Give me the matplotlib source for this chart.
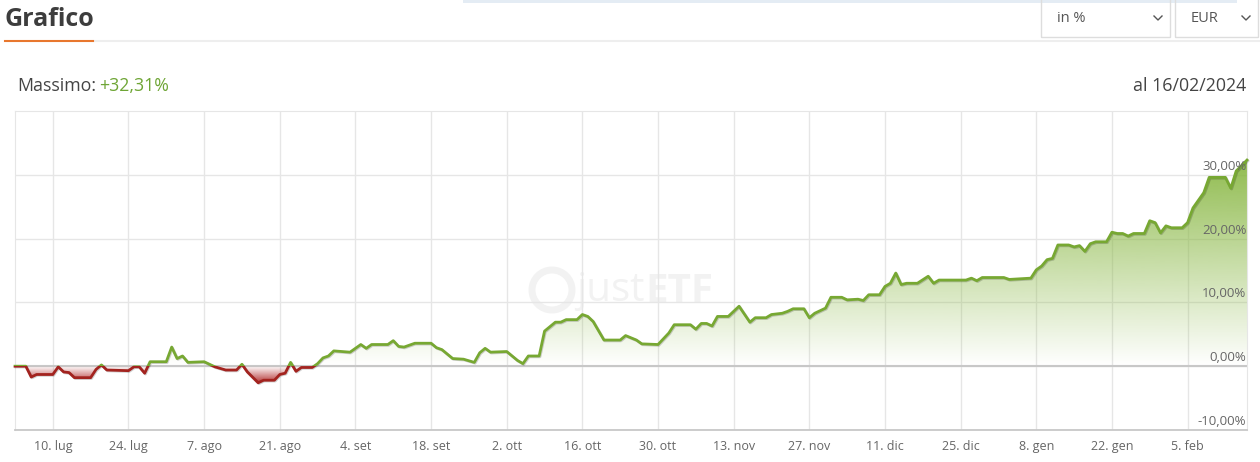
import matplotlib
matplotlib.use("Agg")
import matplotlib.pyplot as plt
import matplotlib.dates as mdates
import matplotlib.patheffects as pe
import numpy as np
import pandas as pd
from matplotlib.lines import Line2D
from matplotlib.patches import Rectangle, PathPatch, Circle
from matplotlib.path import Path
from matplotlib.transforms import IdentityTransform

plt.rcParams["font.family"] = ["Open Sans", "DejaVu Sans"]

# performance in % since 03/07/2023
dates = [
    # lug
    "2023-07-03", "2023-07-05", "2023-07-06", "2023-07-07", "2023-07-10", "2023-07-11",
    "2023-07-12", "2023-07-13", "2023-07-14", "2023-07-17", "2023-07-18", "2023-07-19",
    "2023-07-20", "2023-07-24", "2023-07-25", "2023-07-26", "2023-07-27", "2023-07-28",
    "2023-07-31",
    # ago
    "2023-08-01", "2023-08-02", "2023-08-03", "2023-08-04", "2023-08-07", "2023-08-09",
    "2023-08-11", "2023-08-13", "2023-08-14", "2023-08-15", "2023-08-17", "2023-08-18",
    "2023-08-20", "2023-08-21", "2023-08-22", "2023-08-23", "2023-08-24", "2023-08-25",
    "2023-08-27", "2023-08-28", "2023-08-29", "2023-08-30", "2023-08-31",
    # set
    "2023-09-03", "2023-09-05", "2023-09-06", "2023-09-07", "2023-09-10", "2023-09-11",
    "2023-09-12", "2023-09-13", "2023-09-15", "2023-09-18", "2023-09-19", "2023-09-20",
    "2023-09-22", "2023-09-24", "2023-09-26", "2023-09-27", "2023-09-28", "2023-09-29",
    # ott
    "2023-10-02", "2023-10-04", "2023-10-05", "2023-10-06", "2023-10-08", "2023-10-09",
    "2023-10-11", "2023-10-12", "2023-10-13", "2023-10-15", "2023-10-16", "2023-10-17",
    "2023-10-18", "2023-10-20", "2023-10-23", "2023-10-24", "2023-10-26", "2023-10-27",
    "2023-10-30",
    # nov
    "2023-11-01", "2023-11-02", "2023-11-05", "2023-11-06", "2023-11-07", "2023-11-08",
    "2023-11-09", "2023-11-10", "2023-11-12", "2023-11-14", "2023-11-16", "2023-11-17",
    "2023-11-19", "2023-11-20", "2023-11-22", "2023-11-23", "2023-11-24", "2023-11-26",
    "2023-11-27", "2023-11-28", "2023-11-30",
    # dic
    "2023-12-01", "2023-12-03", "2023-12-04", "2023-12-06", "2023-12-07", "2023-12-08",
    "2023-12-10", "2023-12-11", "2023-12-12", "2023-12-13", "2023-12-14", "2023-12-15",
    "2023-12-17", "2023-12-19", "2023-12-20", "2023-12-21", "2023-12-26", "2023-12-27",
    "2023-12-28", "2023-12-29",
    # gen
    "2024-01-02", "2024-01-03", "2024-01-05", "2024-01-07", "2024-01-08", "2024-01-09",
    "2024-01-10", "2024-01-11", "2024-01-12", "2024-01-14", "2024-01-15", "2024-01-16",
    "2024-01-17", "2024-01-18", "2024-01-19", "2024-01-21", "2024-01-22", "2024-01-23",
    "2024-01-24", "2024-01-25", "2024-01-26", "2024-01-28", "2024-01-29", "2024-01-30",
    "2024-01-31",
    # feb
    "2024-02-01", "2024-02-02", "2024-02-04", "2024-02-05", "2024-02-06", "2024-02-08",
    "2024-02-09", "2024-02-12", "2024-02-13", "2024-02-14", "2024-02-16",
]
perf = [
    0.0, 0.0, -1.7, -1.3, -1.3, -0.1,
    -0.9, -1.0, -1.8, -1.8, -0.5, 0.2,
    -0.6, -0.7, -0.1, -0.1, -1.1, 0.7,
    0.7,
    3.0, 1.2, 1.6, 0.6, 0.7, -0.1,
    -0.6, -0.6, 0.3, -0.9, -2.6, -2.2,
    -2.2, -1.3, -1.1, 0.6, -0.8, -0.2,
    -0.2, 0.4, 1.3, 1.6, 2.4,
    2.2, 3.4, 2.8, 3.4, 3.4, 4.0,
    3.1, 3.0, 3.6, 3.6, 2.9, 2.6,
    1.2, 1.1, 0.6, 2.1, 2.8, 2.2,
    2.3, 0.9, 0.4, 1.6, 1.6, 5.5,
    6.9, 6.9, 7.3, 7.3, 8.1, 7.8,
    7.0, 4.1, 4.1, 4.8, 4.1, 3.5,
    3.4,
    5.2, 6.5, 6.5, 5.8, 6.7, 6.7,
    6.3, 7.8, 7.8, 9.4, 6.9, 7.6,
    7.6, 8.1, 8.3, 8.6, 9.0, 9.0,
    7.6, 8.3, 9.1,
    10.8, 10.8, 10.4, 10.5, 10.3, 11.2,
    11.2, 12.5, 13.0, 14.6, 12.8, 13.0,
    13.0, 14.1, 13.0, 13.5, 13.5, 13.8,
    13.4, 13.9,
    13.9, 13.6, 13.7, 13.8, 15.1, 15.7,
    16.7, 16.9, 19.0, 19.0, 18.7, 18.9,
    18.0, 19.2, 19.5, 19.5, 21.0, 20.8,
    20.8, 20.4, 20.8, 20.8, 22.8, 22.5,
    20.9,
    22.0, 21.7, 21.7, 22.5, 24.8, 27.2,
    29.6, 29.6, 27.9, 30.6, 32.31,
]
assert len(dates) == len(perf)

tick_dates = ["2023-07-10", "2023-07-24", "2023-08-07", "2023-08-21", "2023-09-04",
              "2023-09-18", "2023-10-02", "2023-10-16", "2023-10-30", "2023-11-13",
              "2023-11-27", "2023-12-11", "2023-12-25", "2024-01-08", "2024-01-22",
              "2024-02-05"]
tick_labels = ["10. lug", "24. lug", "7. ago", "21. ago", "4. set", "18. set", "2. ott",
               "16. ott", "30. ott", "13. nov", "27. nov", "11. dic", "25. dic", "8. gen",
               "22. gen", "5. feb"]
y_ticks = [-10, 0, 10, 20, 30]
y_labels = ["-10,00%", "0,00%", "10,00%", "20,00%", "30,00%"]

GREEN = "#77a832"
RED = "#a3231f"
W, H = 1260, 462


def fx(px):
    return px / W


def fy(py):
    return 1 - py / H


x = mdates.date2num(pd.to_datetime(dates))
y = np.array(perf)
x0, x1 = x[0], x[-1]

fig = plt.figure(figsize=(W / 100, H / 100), dpi=100)
ax = fig.add_axes([fx(15), 1 - 430 / H, 1232 / W, 319 / H])
ax.set_facecolor("white")
ax.set_xlim(x0, x1)
ax.set_ylim(-10, 40)

# grid
ax.set_yticks(y_ticks)
ax.set_yticklabels([])
ax.set_xticks(mdates.date2num(pd.to_datetime(tick_dates)), tick_labels)
ax.grid(True, color="#e6e6e6", lw=1)
ax.set_axisbelow(True)
ax.tick_params(axis="both", length=0)
ax.tick_params(axis="x", pad=7, labelsize=9, labelcolor="#666666")
for side in ["top", "left", "right"]:
    ax.spines[side].set_color("#e6e6e6")
ax.spines["bottom"].set_color("#c8c8c8")
ax.spines["bottom"].set_linewidth(1.3)
ax.axhline(0, color="#c8c8c8", lw=1.5, zorder=1)

for v, lab in zip(y_ticks, y_labels):
    ax.annotate(lab, (1, v), xycoords=("axes fraction", "data"), xytext=(-0.5, 1.5),
                textcoords="offset points", ha="right", va="bottom",
                fontsize=9.5, color="#666666", zorder=6)

# watermark
ax.add_patch(Circle((552, H - 290), 20, transform=IdentityTransform(), fc="none",
                    ec="#f2f2f2", lw=5, zorder=0.5))
ax.text((576 - 15) / 1232, (430 - 291) / 319, "just", transform=ax.transAxes,
        fontsize=29, color="#f2f2f2", va="center", ha="left", zorder=0.5)
ax.text((645 - 15) / 1232, (430 - 291) / 319, "ETF", transform=ax.transAxes,
        fontsize=29, color="#f2f2f2", weight="bold", va="center", ha="left", zorder=0.5)

# gradient fills clipped to the area between the line and zero
verts = [(x0, 0)] + list(zip(x, y)) + [(x1, 0), (x0, 0)]
area = PathPatch(Path(verts, closed=True), transform=ax.transData, fc="none", ec="none")
ax.add_patch(area)

n = 256
g = np.zeros((n, 1, 4))
g[:, 0, :3] = [0x8a / 255, 0xb8 / 255, 0x45 / 255]
g[:, 0, 3] = np.linspace(0, 0.95, n)
im_g = ax.imshow(g, extent=[x0, x1, 0, y.max()], origin="lower", aspect="auto",
                 interpolation="bilinear", zorder=2)
im_g.set_clip_path(area)

r = np.zeros((n, 1, 4))
r[:, 0, :3] = [0xb0 / 255, 0x28 / 255, 0x28 / 255]
r[:, 0, 3] = np.linspace(0.95, 0, n)
im_r = ax.imshow(r, extent=[x0, x1, y.min(), 0], origin="lower", aspect="auto",
                 interpolation="bilinear", zorder=2)
im_r.set_clip_path(area)

# line: green above zero, red below
shadow = [pe.SimpleLineShadow(offset=(0.6, -0.6), alpha=0.18), pe.Normal()]
up, = ax.plot(x, y, color=GREEN, lw=2.0, zorder=4, solid_joinstyle="round",
              path_effects=shadow)
up.set_clip_path(Rectangle((x0 - 5, 0), x1 - x0 + 10, 100, transform=ax.transData))
dn, = ax.plot(x, y, color=RED, lw=2.0, zorder=4, solid_joinstyle="round",
              path_effects=shadow)
dn.set_clip_path(Rectangle((x0 - 5, -100), x1 - x0 + 10, 100, transform=ax.transData))

ax.set_xlim(x0, x1)
ax.set_ylim(-10, 40)

# header
fig.text(fx(5), fy(19), "Grafico", fontsize=18, weight="bold", color="#3d3d3d", va="center")
fig.add_artist(Line2D([fx(93), fx(1260)], [fy(41)] * 2, color="#eeeeee", lw=1.5))
fig.add_artist(Line2D([fx(5), fx(93)], [fy(41)] * 2, color="#e8772e", lw=1.5))
fig.add_artist(Rectangle((fx(463), fy(3)), fx(1237 - 463), 3 / H, transform=fig.transFigure,
                         color="#e4ecf4", lw=0))

for bx0, bx1, label in [(1041, 1170, "in %"), (1175, 1258, "EUR")]:
    fig.add_artist(Rectangle((fx(bx0), fy(37)), fx(bx1 - bx0), 38 / H,
                             transform=fig.transFigure, fill=False, ec="#dddddd", lw=1))
    fig.text(fx(bx0 + 16), fy(18), label, fontsize=10.5, color="#555555", va="center")
    cx = bx1 - 12
    fig.add_artist(Line2D([fx(cx - 4), fx(cx), fx(cx + 4)], [fy(16), fy(20), fy(16)],
                          color="#555555", lw=1))

fig.text(fx(17), fy(86), "Massimo:", fontsize=12.8, color="#444444", va="center")
fig.text(fx(99), fy(86), "+32,31%", fontsize=12.8, color="#6ea535", va="center")
fig.text(fx(1246), fy(86), "al 16/02/2024", fontsize=12.8, color="#444444", va="center",
         ha="right")

fig.savefig("out.png", dpi=100)
